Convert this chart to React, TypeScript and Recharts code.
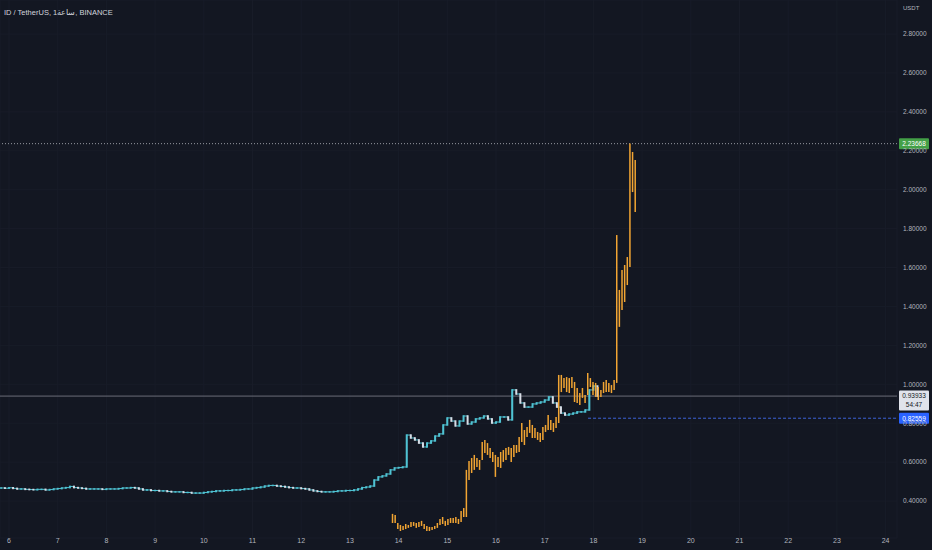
import React from "react";
import {
    ComposedChart,
    Scatter,
    ErrorBar,
    Line,
    XAxis,
    YAxis,
    CartesianGrid,
    ReferenceLine,
} from "recharts";

// TradingView-like dark palette
const BG = "#131722";
const CYAN = "#4fc3d3";
const WHITE = "#d9dde6";
const ORANGE = "#f2a533";
const AXIS_TEXT = "#b2b5be";
const FONT = "'Liberation Sans', Arial, sans-serif";

// main series: 2h closes, day-of-month timestamps
const CYAN_START = 5.8333;
const CYAN_STEP = 2 / 24;
const cyanClose = [
    0.467, 0.466, 0.468, 0.465, 0.462, 0.462, 0.46, 0.459, 0.458, 0.46,
    0.46, 0.457, 0.459, 0.462, 0.464, 0.467, 0.469, 0.475, 0.469, 0.467,
    0.465, 0.462, 0.462, 0.462, 0.462, 0.46, 0.462, 0.462, 0.462, 0.464,
    0.467, 0.467, 0.469, 0.467, 0.462, 0.457, 0.457, 0.454, 0.454, 0.452,
    0.452, 0.449, 0.447, 0.447, 0.447, 0.444, 0.444, 0.441, 0.441, 0.441,
    0.444, 0.447, 0.449, 0.452, 0.452, 0.454, 0.454, 0.457, 0.457, 0.459,
    0.462, 0.462, 0.467, 0.469, 0.472, 0.477, 0.48, 0.48, 0.477, 0.475,
    0.472, 0.469, 0.467, 0.467, 0.464, 0.462, 0.457, 0.452, 0.449, 0.447,
    0.447, 0.447, 0.449, 0.452, 0.452, 0.454, 0.454, 0.457, 0.462, 0.469,
    0.472, 0.477, 0.508, 0.524, 0.529, 0.539, 0.56, 0.57, 0.572, 0.575,
    0.739, 0.724, 0.714, 0.698, 0.678, 0.698, 0.709, 0.734, 0.745, 0.791,
    0.827, 0.811, 0.786, 0.811, 0.837, 0.796, 0.806, 0.822, 0.827, 0.837,
    0.822, 0.801, 0.806, 0.832, 0.832, 0.817, 0.971, 0.95, 0.904, 0.883,
    0.883, 0.899, 0.904, 0.909, 0.919, 0.935, 0.904, 0.883, 0.852, 0.842,
    0.847, 0.852, 0.858, 0.858, 0.868, 0.971, 0.991, 0.939,
];

// overlay series: high / low per bar
const ORANGE_START = 13.875;
const ORANGE_STEP = 1.3 / 24;
const orangeHigh = [
    0.334, 0.328, 0.287, 0.277, 0.272, 0.282, 0.277, 0.292, 0.292, 0.287,
    0.292, 0.298, 0.282, 0.272, 0.267, 0.267, 0.272, 0.287, 0.308, 0.318,
    0.298, 0.308, 0.313, 0.313, 0.318, 0.308, 0.349, 0.364, 0.56, 0.606,
    0.621, 0.637, 0.621, 0.611, 0.704, 0.714, 0.698, 0.673, 0.652, 0.637,
    0.626, 0.652, 0.662, 0.673, 0.678, 0.673, 0.688, 0.688, 0.729, 0.801,
    0.765, 0.781, 0.817, 0.791, 0.775, 0.755, 0.75, 0.781, 0.791, 0.842,
    0.817, 0.801, 0.832, 1.048, 1.048, 1.032, 1.037, 1.032, 1.037, 1.012,
    0.981, 0.955, 0.981, 0.945, 1.058, 1.032, 1.012, 1.007, 0.986, 0.971,
    1.012, 1.022, 1.007, 0.996, 1.022, 1.767, 1.485, 1.587, 1.613, 1.654,
    2.237, 2.194, 2.153,
];
const orangeLow = [
    0.287, 0.287, 0.256, 0.246, 0.251, 0.256, 0.262, 0.267, 0.272, 0.262,
    0.267, 0.272, 0.256, 0.246, 0.246, 0.251, 0.256, 0.262, 0.277, 0.282,
    0.272, 0.277, 0.287, 0.287, 0.287, 0.282, 0.292, 0.318, 0.318, 0.508,
    0.544, 0.56, 0.575, 0.56, 0.611, 0.647, 0.637, 0.621, 0.601, 0.524,
    0.575, 0.57, 0.601, 0.611, 0.637, 0.601, 0.626, 0.647, 0.652, 0.704,
    0.688, 0.729, 0.75, 0.724, 0.724, 0.714, 0.704, 0.714, 0.755, 0.765,
    0.765, 0.755, 0.775, 0.801, 0.96, 0.981, 0.96, 0.955, 0.981, 0.909,
    0.904, 0.894, 0.93, 0.904, 0.945, 0.986, 0.945, 0.935, 0.919, 0.935,
    0.955, 0.96, 0.96, 0.955, 0.971, 1.007, 1.295, 1.382, 1.423, 1.51,
    1.603, 1.988, 1.885,
];

const xTicks = [6, 7, 8, 9, 10, 11, 12, 13, 14, 15, 16, 17, 18, 19, 20, 21, 22, 23, 24];
const yTicks = [0.4, 0.6, 0.8, 1.0, 1.2, 1.4, 1.6, 1.8, 2.0, 2.2, 2.4, 2.6, 2.8];
const X_DOMAIN = [5.815, 24.234];
const Y_DOMAIN = [0.21, 2.975];

const HIGH_PRICE = 2.23668;
const LAST_PRICE = 0.93933;
const LAST_BLUE = 0.82559;
const BLUE_FROM = 17.89;
const COUNTDOWN = "54:47";

const PAD = 0.004;

// each bar = invisible point at the middle + vertical error bar to low/high
const toBar = (t: number, lo: number, hi: number) => {
    const mid = (lo + hi) / 2;
    return { t, mid, err: [mid - lo, hi - mid] };
};

const cyanRows = cyanClose.map((c, i) => ({ t: CYAN_START + i * CYAN_STEP, close: c }));
const cyanUp: any[] = [];
const cyanDown: any[] = [];
cyanClose.forEach((c, i) => {
    const prev = i > 0 ? cyanClose[i - 1] : c;
    const bar = toBar(CYAN_START + i * CYAN_STEP, Math.min(prev, c) - PAD, Math.max(prev, c) + PAD);
    (c >= prev ? cyanUp : cyanDown).push(bar);
});
const orangeBars = orangeHigh.map((h, i) => toBar(ORANGE_START + i * ORANGE_STEP, orangeLow[i], h));

const NoDot = () => <g />;

// price tag drawn in the axis area, at the line's y
const PriceTag = (props: any) => {
    const { viewBox, text, sub, fill, color } = props;
    if (!viewBox) return null;
    const x = viewBox.x + viewBox.width + 2;
    const y = viewBox.y;
    const h = sub ? 20 : 11;
    return (
        <g>
            <rect x={x} y={y - 5.5} width={30} height={h} rx={1} fill={fill} />
            <text x={x + 15} y={y + 2.4} textAnchor="middle" fontSize={6.5} fontFamily={FONT} fill={color}>
                {text}
            </text>
            {sub && (
                <text x={x + 15} y={y + 11} textAnchor="middle" fontSize={6.5} fontFamily={FONT} fill={color}>
                    {sub}
                </text>
            )}
        </g>
    );
};

export default function App() {
    return (
        <div style={{ position: "relative", width: 932, height: 550, background: BG, overflow: "hidden", fontFamily: FONT }}>
            <style>{`body{margin:0;background:${BG}}`}</style>
            <ComposedChart width={932} height={550} data={cyanRows} margin={{ top: 0, right: 0, bottom: 0, left: 0 }}>
                <CartesianGrid stroke="#181c28" />
                <XAxis
                    dataKey="t"
                    type="number"
                    domain={X_DOMAIN}
                    allowDataOverflow
                    ticks={xTicks}
                    tick={{ fontSize: 7, fill: AXIS_TEXT, fontFamily: FONT }}
                    axisLine={false}
                    tickLine={false}
                    tickSize={0}
                    tickMargin={0}
                    height={12}
                />
                <YAxis
                    orientation="right"
                    type="number"
                    domain={Y_DOMAIN}
                    allowDataOverflow
                    ticks={yTicks}
                    tickFormatter={(v: number) => v.toFixed(5)}
                    tick={{ fontSize: 6.5, fill: AXIS_TEXT, fontFamily: FONT }}
                    axisLine={false}
                    tickLine={false}
                    tickSize={0}
                    tickMargin={6}
                    width={35}
                />
                <ReferenceLine y={HIGH_PRICE} stroke="#9598a1" strokeDasharray="1 2" />
                <ReferenceLine y={LAST_PRICE} stroke="#6a6d78" />
                <ReferenceLine
                    segment={[{ x: BLUE_FROM, y: LAST_BLUE }, { x: X_DOMAIN[1], y: LAST_BLUE }]}
                    stroke="#3d63d8"
                    strokeDasharray="3 2"
                />
                <Line
                    dataKey="close"
                    type="stepAfter"
                    stroke={CYAN}
                    strokeWidth={1}
                    dot={false}
                    activeDot={false}
                    isAnimationActive={false}
                />
                <Scatter data={cyanUp} dataKey="mid" shape={<NoDot />} isAnimationActive={false}>
                    <ErrorBar dataKey="err" direction="y" width={0} stroke={CYAN} strokeWidth={2} isAnimationActive={false} />
                </Scatter>
                <Scatter data={cyanDown} dataKey="mid" shape={<NoDot />} isAnimationActive={false}>
                    <ErrorBar dataKey="err" direction="y" width={0} stroke={WHITE} strokeWidth={2} isAnimationActive={false} />
                </Scatter>
                <Scatter data={orangeBars} dataKey="mid" shape={<NoDot />} isAnimationActive={false}>
                    <ErrorBar dataKey="err" direction="y" width={0} stroke={ORANGE} strokeWidth={1.5} isAnimationActive={false} />
                </Scatter>
                <ReferenceLine
                    y={HIGH_PRICE}
                    stroke="none"
                    label={<PriceTag text={HIGH_PRICE.toFixed(5)} fill="#43a047" color="#ffffff" />}
                />
                <ReferenceLine
                    y={LAST_PRICE}
                    stroke="none"
                    label={<PriceTag text={LAST_PRICE.toFixed(5)} sub={COUNTDOWN} fill="#e0e3eb" color="#131722" />}
                />
                <ReferenceLine
                    segment={[{ x: BLUE_FROM, y: LAST_BLUE }, { x: X_DOMAIN[1], y: LAST_BLUE }]}
                    stroke="none"
                    label={<PriceTag text={LAST_BLUE.toFixed(5)} fill="#2962ff" color="#ffffff" />}
                />
            </ComposedChart>
            <div style={{ position: "absolute", left: 4, top: 7.5, fontSize: 7.5, color: "#d1d4dc", whiteSpace: "nowrap" }}>
                ID / TetherUS, 1ساعة, BINANCE
            </div>
            <div style={{ position: "absolute", left: 903, top: 5, fontSize: 6, color: AXIS_TEXT }}>USDT</div>
        </div>
    );
}
